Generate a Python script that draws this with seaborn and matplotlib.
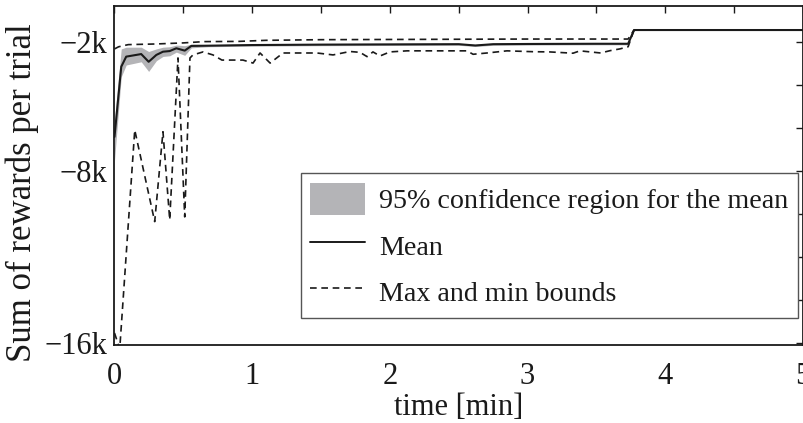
import numpy as np
import pandas as pd
import matplotlib
matplotlib.use("Agg")
import matplotlib.pyplot as plt
import seaborn as sns
from matplotlib.patches import Patch
from matplotlib.lines import Line2D

# ---- data (time in minutes, reward in thousands) ----
mean_t = [0.0, 0.049, 0.085, 0.194, 0.248, 0.304, 0.352, 0.401, 0.449, 0.51, 0.558,
          0.68, 1.0, 1.5, 2.0, 2.5, 2.62, 2.75, 3.0, 3.5, 3.73, 3.773, 5.0]
mean_v = [-6.4, -3.13, -2.66, -2.54, -2.9, -2.58, -2.43, -2.40, -2.27, -2.38, -2.16,
          -2.15, -2.12, -2.10, -2.09, -2.08, -2.14, -2.08, -2.07, -2.06, -2.06, -1.42, -1.42]
ci_low = [-7.5, -3.6, -3.05, -2.9, -3.35, -2.85, -2.65, -2.62, -2.45, -2.6, -2.25,
          -2.2, -2.17, -2.15, -2.14, -2.13, -2.19, -2.13, -2.12, -2.11, -2.11, -1.42, -1.42]
ci_high = [-5.6, -2.3, -2.22, -2.22, -2.42, -2.3, -2.22, -2.2, -2.12, -2.15, -2.08,
           -2.1, -2.07, -2.05, -2.04, -2.03, -2.09, -2.03, -2.02, -2.01, -2.01, -1.42, -1.42]

max_t = [0.0, 0.03, 0.1, 0.3, 0.5, 0.65, 0.9, 1.1, 1.5, 2.0, 2.5, 3.0, 3.5, 3.73, 3.773, 5.0]
max_v = [-2.3, -2.2, -2.1, -2.07, -2.02, -1.96, -1.95, -1.9, -1.87, -1.86, -1.85, -1.84,
         -1.84, -1.84, -1.42, -1.42]

min_t = [0.0, 0.038, 0.147, 0.292, 0.352, 0.401, 0.461, 0.51, 0.548, 0.57, 0.643, 0.715,
         0.78, 0.933, 1.006, 1.057, 1.13, 1.224, 1.347, 1.47, 1.587, 1.71, 1.783, 1.834,
         1.877, 1.928, 2.0, 2.124, 2.364, 2.56, 2.604, 2.705, 2.778, 2.85, 3.04, 3.16,
         3.33, 3.38, 3.53, 3.6, 3.67, 3.73, 3.773, 5.0]
min_v = [-15.54, -16.28, -6.08, -10.35, -6.16, -10.27, -2.72, -10.13, -2.72, -2.58, -2.44,
         -2.58, -2.82, -2.82, -2.96, -2.49, -2.96, -2.49, -2.49, -2.49, -2.58, -2.42, -2.46,
         -2.66, -2.44, -2.63, -2.44, -2.39, -2.39, -2.39, -2.55, -2.49, -2.44, -2.39, -2.43,
         -2.44, -2.5, -2.39, -2.49, -2.38, -2.3, -2.2, -1.42, -1.42]

x_ticks = [0, 0.5, 1, 1.5, 2, 2.5, 3, 3.5, 4, 4.5, 5]
x_labels = ["0", "", "1", "", "2", "", "3", "", "4", "", "5"]
y_ticks = [-16, -14, -12, -10, -8, -6, -4, -2]
y_labels = ["\u221216k", "", "", "", "\u22128k", "", "", "\u22122k"]

legend_labels = ["95% confidence region for the mean", "Mean", "Max and min bounds"]

# ---- style ----
sns.set_theme(style="white")
plt.rcParams["font.family"] = ["Liberation Serif", "DejaVu Serif"]

fig = plt.figure(figsize=(8.04, 4.23), dpi=100)
ax = fig.add_axes([114.5 / 804, (423 - 345) / 423, 688.5 / 804, 339 / 423])

band_color = "#b4b4b7"
dash = (0, (4, 2.8))
ax.fill_between(mean_t, ci_low, ci_high, color=band_color, linewidth=0, zorder=1)

df_mean = pd.DataFrame({"t": mean_t, "v": mean_v})
df_max = pd.DataFrame({"t": max_t, "v": max_v})
df_min = pd.DataFrame({"t": min_t, "v": min_v})

sns.lineplot(data=df_mean, x="t", y="v", ax=ax, color="#1a1a1a", linewidth=1.5,
             estimator=None, sort=False, zorder=3)
for d in (df_max, df_min):
    sns.lineplot(data=d, x="t", y="v", ax=ax, color="#1a1a1a", linewidth=1.2,
                 estimator=None, sort=False, zorder=2, dashes=False,
                 linestyle=dash)

ax.set_xlim(0, 5)
ax.set_ylim(-16.1, -0.3)
ax.set_xticks(x_ticks)
ax.set_xticklabels(x_labels)
ax.set_yticks(y_ticks)
ax.set_yticklabels(y_labels)
ax.tick_params(axis="both", which="both", direction="in", length=5, width=1.0,
               top=True, right=True, labelsize=22, colors="#1a1a1a")
ax.tick_params(axis="x", pad=12)
ax.tick_params(axis="y", pad=5)
for s in ax.spines.values():
    s.set_color("#1a1a1a")
    s.set_linewidth(1.3)

ax.set_xlabel("time [min]", fontsize=22, labelpad=2, color="#1a1a1a")
ax.set_ylabel("Sum of rewards per trial", fontsize=25, color="#1a1a1a")
ax.yaxis.set_label_coords(-0.110, 0.45)

handles = [
    Patch(facecolor=band_color, edgecolor="none"),
    Line2D([0], [0], color="#1a1a1a", linewidth=1.4),
    Line2D([0], [0], color="#1a1a1a", linewidth=1.2, linestyle=dash),
]
leg = ax.legend(handles, legend_labels, loc="lower right", bbox_to_anchor=(0.993, 0.08),
                fontsize=20.2, frameon=True, fancybox=False, framealpha=1,
                edgecolor="#555555", handlelength=1.95, handleheight=1.4,
                handletextpad=0.5, borderpad=0.35, labelspacing=0.5, borderaxespad=0)
leg.get_frame().set_linewidth(1.0)
for t in leg.get_texts():
    t.set_color("#1a1a1a")

fig.savefig("out.png", dpi=100)
